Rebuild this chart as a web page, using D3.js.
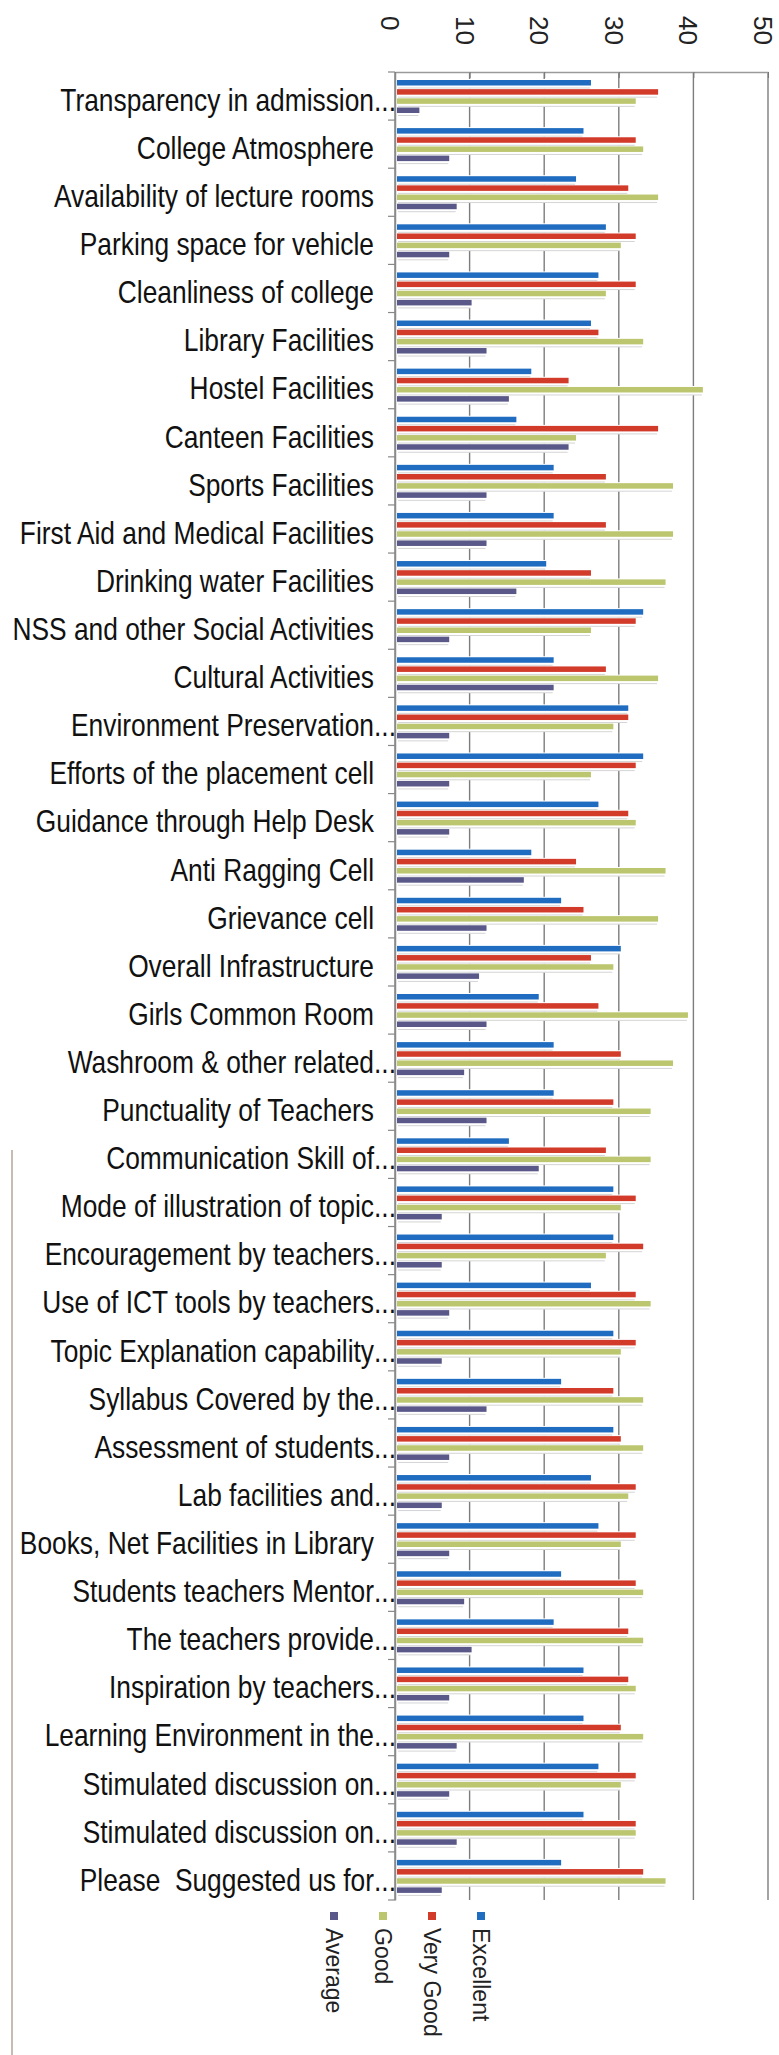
<!DOCTYPE html>
<html>
<head>
<meta charset="utf-8">
<title>Student feedback bars</title>
<style>
  body { margin: 0; background: #fff; }
  .cat-label { font-family: "Liberation Sans", Arial, sans-serif; font-size: 31px; fill: #111; white-space: pre; }
  .num-label { font-family: "Liberation Sans", Arial, sans-serif; font-size: 26px; fill: #222; }
  .legend-label { font-family: "Liberation Sans", Arial, sans-serif; font-size: 23px; fill: #222; }
</style>
</head>
<body>
<div class="drawing"></div>
<script src="https://d3js.org/d3.v7.min.js"></script>
<script>
var categories = [
  "Transparency in admission...", "College Atmosphere", "Availability of lecture rooms",
  "Parking space for vehicle", "Cleanliness of college", "Library Facilities",
  "Hostel Facilities", "Canteen Facilities", "Sports Facilities",
  "First Aid and Medical Facilities", "Drinking water Facilities",
  "NSS and other Social Activities", "Cultural Activities", "Environment Preservation...",
  "Efforts of the placement cell", "Guidance through Help Desk", "Anti Ragging Cell",
  "Grievance cell", "Overall Infrastructure", "Girls Common Room",
  "Washroom & other related...", "Punctuality of Teachers", "Communication Skill of...",
  "Mode of illustration of topic...", "Encouragement by teachers...",
  "Use of ICT tools by teachers...", "Topic Explanation capability...",
  "Syllabus Covered by the...", "Assessment of students...", "Lab facilities and...",
  "Books, Net Facilities in Library", "Students teachers Mentor...",
  "The teachers provide...", "Inspiration by teachers...", "Learning Environment in the...",
  "Stimulated discussion on...", "Stimulated discussion on... ", "Please  Suggested us for..."
];
var excellent = [26, 25, 24, 28, 27, 26, 18, 16, 21, 21, 20, 33, 21, 31, 33, 27, 18, 22, 30,
                 19, 21, 21, 15, 29, 29, 26, 29, 22, 29, 26, 27, 22, 21, 25, 25, 27, 25, 22];
var veryGood  = [35, 32, 31, 32, 32, 27, 23, 35, 28, 28, 26, 32, 28, 31, 32, 31, 24, 25, 26,
                 27, 30, 29, 28, 32, 33, 32, 32, 29, 30, 32, 32, 32, 31, 31, 30, 32, 32, 33];
var good      = [32, 33, 35, 30, 28, 33, 41, 24, 37, 37, 36, 26, 35, 29, 26, 32, 36, 35, 29,
                 39, 37, 34, 34, 30, 28, 34, 30, 33, 33, 31, 30, 33, 33, 32, 33, 30, 32, 36];
var average   = [3, 7, 8, 7, 10, 12, 15, 23, 12, 12, 16, 7, 21, 7, 7, 7, 17, 12, 11,
                 12, 9, 12, 19, 6, 6, 7, 6, 12, 7, 6, 7, 9, 10, 7, 8, 7, 8, 6];
var seriesNames = ["Excellent", "Very Good", "Good", "Average"];
var seriesColors = ["#1f6cc0", "#d23a2a", "#bcc66e", "#5a5889"];
var xTicks = [0, 10, 20, 30, 40, 50];

var w = 779, h = 2055;
var seriesValues = [excellent, veryGood, good, average];

var SVG = d3.select("div.drawing").append("svg")
  .attr("width", w)
  .attr("height", h);

var XScale = d3.scaleLinear().domain([0, 50]).range([395, 768]);
var YScale = d3.scaleBand().domain(d3.range(categories.length)).range([72, 1900]);
var YInner = d3.scaleBand().domain(seriesNames).range([8, 41]).paddingInner(0.4);
var colour = d3.scaleOrdinal().domain(seriesNames).range(seriesColors);

/* chart border on the left, lower part */
SVG.append("line")
  .attr("x1", 12).attr("x2", 12).attr("y1", 1150).attr("y2", h)
  .attr("stroke", "#b3a49c").attr("stroke-width", 1.5);

/* grid lines */
SVG.append("g").selectAll("line")
  .data(xTicks)
  .join("line")
  .attr("x1", function(d){ return XScale(d); })
  .attr("x2", function(d){ return XScale(d); })
  .attr("y1", 72).attr("y2", 1900)
  .attr("stroke", "#7d7d7d").attr("stroke-width", 1.4);

/* top value axis */
var XAxis = d3.axisTop(XScale).tickValues(xTicks).tickSizeInner(-6).tickSizeOuter(0).tickFormat("");
SVG.append("g")
  .attr("transform", "translate(0,72)")
  .call(XAxis)
  .call(function(g){ g.select(".domain").attr("stroke", "#9a9a9a").attr("stroke-width", 1.5); })
  .call(function(g){ g.selectAll(".tick line").attr("stroke", "#777"); });

SVG.append("g").selectAll("text")
  .data(xTicks)
  .join("text")
  .attr("class", "num-label")
  .attr("x", function(d){ return XScale(d) - 5; })
  .attr("y", 16)
  .attr("dominant-baseline", "central")
  .attr("transform", function(d){ return "rotate(90," + (XScale(d) - 5) + ",16)"; })
  .text(function(d){ return d; });

/* bars */
var rows = [];
categories.forEach(function(c, i){
  seriesNames.forEach(function(s, j){
    rows.push({ i: i, s: s, v: seriesValues[j][i] });
  });
});

var step = YInner.step();
var barG = SVG.append("g");

barG.selectAll("rect.back")
  .data(rows)
  .join("rect")
  .attr("class", "back")
  .attr("x", XScale(0) + 1)
  .attr("y", function(d){ return YScale(d.i) + YInner(d.s) - 1; })
  .attr("width", function(d){ return XScale(d.v) - XScale(0) + 2; })
  .attr("height", step)
  .attr("fill", "#fff");

barG.selectAll("line.shadow")
  .data(rows)
  .join("line")
  .attr("class", "shadow")
  .attr("x1", XScale(0) + 3)
  .attr("x2", function(d){ return XScale(d.v) + 1; })
  .attr("y1", function(d){ return YScale(d.i) + YInner(d.s) + YInner.bandwidth() + 2.5; })
  .attr("y2", function(d){ return YScale(d.i) + YInner(d.s) + YInner.bandwidth() + 2.5; })
  .attr("stroke", "#d4d4d4").attr("stroke-width", 1);

barG.selectAll("rect.bar")
  .data(rows)
  .join("rect")
  .attr("class", "bar")
  .attr("x", XScale(0) + 2)
  .attr("y", function(d){ return YScale(d.i) + YInner(d.s); })
  .attr("width", function(d){ return XScale(d.v) - XScale(0); })
  .attr("height", YInner.bandwidth())
  .attr("fill", function(d){ return colour(d.s); });

/* category axis */
var YAxis = d3.axisLeft(YScale).tickSize(0).tickFormat("");
SVG.append("g")
  .attr("transform", "translate(395,0)")
  .call(YAxis)
  .call(function(g){ g.select(".domain").attr("stroke", "#8a8a8a").attr("stroke-width", 1.5); });

SVG.append("g").selectAll("line")
  .data(d3.range(categories.length + 1))
  .join("line")
  .attr("x1", 388).attr("x2", 395)
  .attr("y1", function(d){ return 72 + d * YScale.step(); })
  .attr("y2", function(d){ return 72 + d * YScale.step(); })
  .attr("stroke", "#888").attr("stroke-width", 1.2);

/* category labels, narrowed; the dots of shortened labels hang past the right edge */
var labels = SVG.append("g");
categories.forEach(function(c, i){
  var name = c.replace(/\s+$/, "");
  var cut = name.slice(-3) === "...";
  var base = cut ? name.slice(0, -3) : name;
  var yy = YScale(i) + YScale.bandwidth() / 2 + 4;
  var row = labels.append("g")
    .attr("transform", "translate(374," + yy + ") scale(0.85,1)");
  row.append("text")
    .attr("class", "cat-label")
    .attr("text-anchor", "end")
    .attr("dominant-baseline", "central")
    .text(base);
  if (cut) {
    row.append("text")
      .attr("class", "cat-label")
      .attr("dominant-baseline", "central")
      .text("...");
  }
});

/* legend */
var legendX = d3.scalePoint().domain(seriesNames).range([481, 334]);
var legend = SVG.append("g").selectAll("g")
  .data(seriesNames)
  .join("g")
  .attr("transform", function(d){ return "translate(" + legendX(d) + ",1912)"; });

legend.append("rect")
  .attr("x", -4).attr("y", 0)
  .attr("width", 8).attr("height", 8)
  .attr("fill", function(d){ return colour(d); });

legend.append("text")
  .attr("class", "legend-label")
  .attr("x", 0).attr("y", 0)
  .attr("dominant-baseline", "central")
  .attr("transform", "translate(0,16) rotate(90)")
  .text(function(d){ return d; });
</script>
</body>
</html>
